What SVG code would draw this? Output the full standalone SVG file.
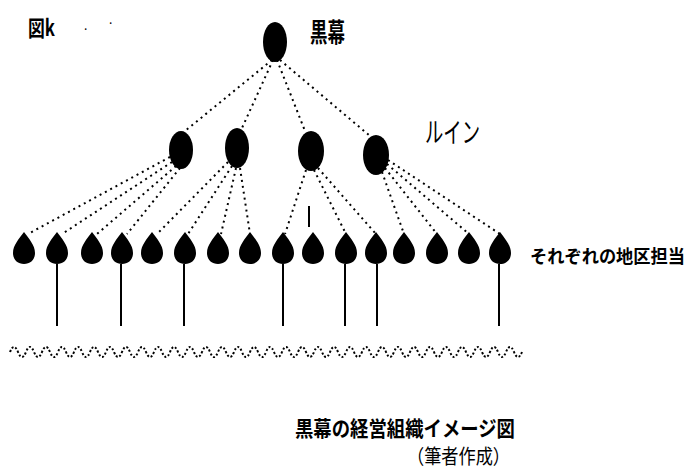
<svg xmlns="http://www.w3.org/2000/svg" width="695" height="471" viewBox="0 0 695 471">
<style>
.dot{stroke:#000;stroke-width:2;stroke-dasharray:2 4;fill:none}
.sol{stroke:#000;stroke-width:2;fill:none}
.n{fill:#000}
.t{font-family:"Noto Sans CJK JP","Noto Sans",sans-serif;fill:#000}
.b{font-weight:bold}
</style>
<defs>
<path id="drop" d="M0,-17 C5,-10 11,-4 11,4 C11,11 6,15 0,15 C-6,15 -11,11 -11,4 C-11,-4 -5,-10 0,-17 Z"/>
</defs>
<rect width="695" height="471" fill="#fff"/>
<g id="connectors">
<line class="dot" x1="272" y1="60" x2="185" y2="131"/>
<line class="dot" x1="273" y1="60" x2="242" y2="128"/>
<line class="dot" x1="277" y1="60" x2="305" y2="131"/>
<line class="dot" x1="280" y1="60" x2="370" y2="136"/>
<line class="dot" x1="170" y1="157" x2="28" y2="234"/>
<line class="dot" x1="172" y1="162" x2="62" y2="234"/>
<line class="dot" x1="176" y1="166" x2="97" y2="234"/>
<line class="dot" x1="180" y1="168" x2="127" y2="234"/>
<line class="dot" x1="228" y1="162" x2="157" y2="234"/>
<line class="dot" x1="232" y1="166" x2="188" y2="234"/>
<line class="dot" x1="236" y1="168" x2="221" y2="234"/>
<line class="dot" x1="240" y1="168" x2="250" y2="234"/>
<line class="dot" x1="306" y1="170" x2="285" y2="234"/>
<line class="sol" x1="309" y1="206" x2="309" y2="227"/>
<line class="dot" x1="314" y1="170" x2="346" y2="234"/>
<line class="dot" x1="318" y1="168" x2="376" y2="234"/>
<line class="dot" x1="382" y1="172" x2="404" y2="234"/>
<line class="dot" x1="385" y1="168" x2="437" y2="234"/>
<line class="dot" x1="387" y1="164" x2="469" y2="234"/>
<line class="dot" x1="388" y1="160" x2="500" y2="234"/>
<line class="sol" x1="57" y1="264" x2="57" y2="326"/>
<line class="sol" x1="121" y1="264" x2="121" y2="326"/>
<line class="sol" x1="184" y1="264" x2="184" y2="326"/>
<line class="sol" x1="283" y1="264" x2="283" y2="326"/>
<line class="sol" x1="345" y1="264" x2="345" y2="326"/>
<line class="sol" x1="377" y1="264" x2="377" y2="326"/>
<line class="sol" x1="499" y1="264" x2="499" y2="326"/>
</g>
<g id="wave">
<path class="dot" style="stroke-dasharray:2 2" d="M10,352 q4,-10 8,0 t8,0 t8,0 t8,0 t8,0 t8,0 t8,0 t8,0 t8,0 t8,0 t8,0 t8,0 t8,0 t8,0 t8,0 t8,0 t8,0 t8,0 t8,0 t8,0 t8,0 t8,0 t8,0 t8,0 t8,0 t8,0 t8,0 t8,0 t8,0 t8,0 t8,0 t8,0 t8,0 t8,0 t8,0 t8,0 t8,0 t8,0 t8,0 t8,0 t8,0 t8,0 t8,0 t8,0 t8,0 t8,0 t8,0 t8,0 t8,0 t8,0 t8,0 t8,0 t8,0 t8,0 t8,0 t8,0 t8,0 t8,0 t8,0 t8,0 t8,0 t8,0 t8,0 t8,0"/>
</g>
<g id="node-top"><ellipse class="n" cx="275" cy="42" rx="12" ry="20"/>
<text class="t b" x="310" y="42" font-size="26" textLength="35" lengthAdjust="spacingAndGlyphs">黒幕</text></g>
<g id="node-m1"><ellipse class="n" cx="181" cy="150" rx="12" ry="19"/></g>
<g id="node-m2"><ellipse class="n" cx="237" cy="148" rx="12" ry="20"/></g>
<g id="node-m3"><ellipse class="n" cx="311" cy="151" rx="13" ry="20"/></g>
<g id="node-m4"><ellipse class="n" cx="376" cy="155" rx="13" ry="20"/></g>
<g id="label-brain"><text class="t" x="425" y="143" font-size="28" textLength="55" lengthAdjust="spacingAndGlyphs">ルイン</text></g>
<g id="node-b1"><use href="#drop" x="24" y="249"/></g>
<g id="node-b2"><use href="#drop" x="57" y="249"/></g>
<g id="node-b3"><use href="#drop" x="92" y="249"/></g>
<g id="node-b4"><use href="#drop" x="122" y="249"/></g>
<g id="node-b5"><use href="#drop" x="152" y="249"/></g>
<g id="node-b6"><use href="#drop" x="185" y="249"/></g>
<g id="node-b7"><use href="#drop" x="218" y="249"/></g>
<g id="node-b8"><use href="#drop" x="250" y="249"/></g>
<g id="node-b9"><use href="#drop" x="283" y="249"/></g>
<g id="node-b10"><use href="#drop" x="313" y="249"/></g>
<g id="node-b11"><use href="#drop" x="346" y="249"/></g>
<g id="node-b12"><use href="#drop" x="376" y="249"/></g>
<g id="node-b13"><use href="#drop" x="404" y="249"/></g>
<g id="node-b14"><use href="#drop" x="437" y="249"/></g>
<g id="node-b15"><use href="#drop" x="469" y="249"/></g>
<g id="node-b16"><use href="#drop" x="500" y="249"/></g>
<g id="label-district"><text class="t b" x="530" y="263" font-size="18" textLength="155" lengthAdjust="spacingAndGlyphs">それぞれの地区担当</text></g>
<g id="label-fig"><text class="t b" x="28" y="36" font-size="22" textLength="27" lengthAdjust="spacingAndGlyphs">図k</text>
<text class="t" x="84" y="30" font-size="12">.</text><text class="t" x="109" y="24" font-size="12">.</text></g>
<g id="caption">
<text class="t b" x="295" y="436" font-size="21" textLength="220" lengthAdjust="spacingAndGlyphs">黒幕の経営組織イメージ図</text>
<text class="t" x="407" y="464" font-size="20" textLength="103" lengthAdjust="spacingAndGlyphs">（筆者作成）</text>
</g>
</svg>
